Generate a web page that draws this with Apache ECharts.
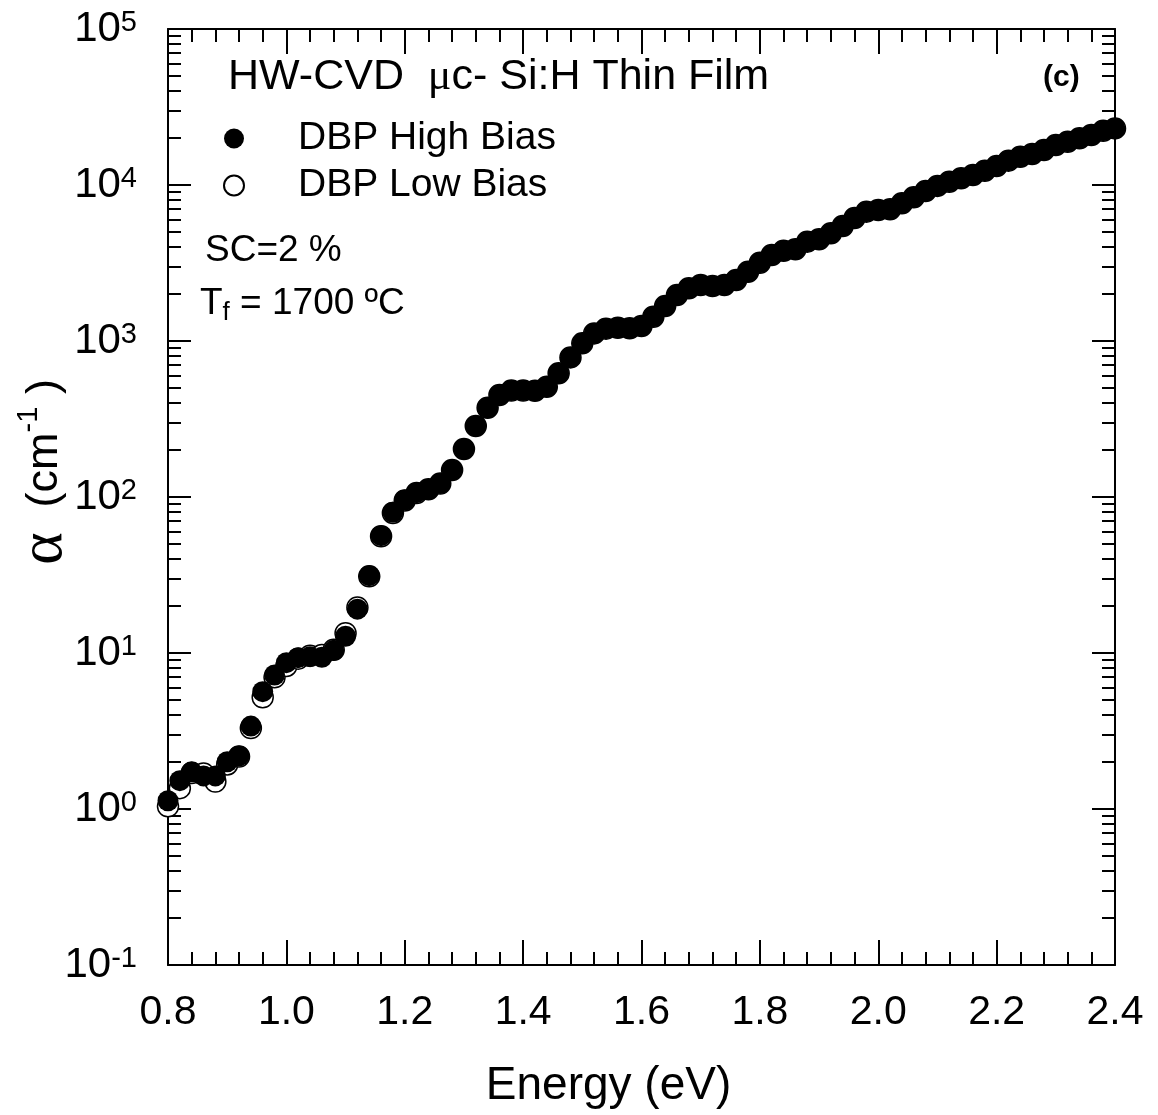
<!DOCTYPE html>
<html>
<head>
<meta charset="utf-8">
<script src="https://cdn.jsdelivr.net/npm/echarts@6/dist/echarts.min.js"></script>
<style>
  html, body { margin: 0; padding: 0; background: #fff; }
  #main { width: 1158px; height: 1115px; }
</style>
</head>
<body>
<div id="main"></div>
<script>
// photon energy (eV)
var energy = [0.80, 0.82, 0.84, 0.86, 0.88, 0.90, 0.92, 0.94, 0.96, 0.98,
  1.00, 1.02, 1.04, 1.06, 1.08, 1.10, 1.12, 1.14, 1.16, 1.18,
  1.20, 1.22, 1.24, 1.26, 1.28, 1.30, 1.32, 1.34, 1.36, 1.38,
  1.40, 1.42, 1.44, 1.46, 1.48, 1.50, 1.52, 1.54, 1.56, 1.58,
  1.60, 1.62, 1.64, 1.66, 1.68, 1.70, 1.72, 1.74, 1.76, 1.78,
  1.80, 1.82, 1.84, 1.86, 1.88, 1.90, 1.92, 1.94, 1.96, 1.98,
  2.00, 2.02, 2.04, 2.06, 2.08, 2.10, 2.12, 2.14, 2.16, 2.18,
  2.20, 2.22, 2.24, 2.26, 2.28, 2.30, 2.32, 2.34, 2.36, 2.38, 2.40]

// absorption coefficient alpha (cm^-1), DBP high bias
var alphaHigh = [1.13, 1.52, 1.73, 1.63, 1.63, 2.01, 2.19, 3.40, 5.65, 7.23,
  8.67, 9.33, 9.47, 9.38, 10.4, 12.8, 19.1, 31.3, 56.5, 79.8,
  95.7, 106.6, 112, 122, 149, 203, 285, 373, 451, 481,
  481, 479, 509, 621, 785, 966, 1119, 1200, 1216, 1205,
  1247, 1432, 1675, 1972, 2177, 2285, 2253, 2285, 2460, 2780,
  3177, 3555, 3790, 3871, 4335, 4488, 4900, 5460, 6150, 6750,
  6920, 6980, 7640, 8340, 9160, 9870, 10500, 11040, 11580, 12350,
  13250, 14330, 15180, 15800, 16760, 18030, 18950, 19920, 20930, 22290, 23060]

// DBP low bias
var alphaLow = [1.04, 1.36, 1.70, 1.69, 1.50, 1.93, 2.17, 3.30, 5.20, 6.98,
  8.26, 9.20, 9.60, 9.70, 10.5, 13.4, 19.6, 31.0, 56.0, 79.0,
  95, 106, 112, 122, 149, 203, 285, 373, 451, 481,
  481, 479, 509, 621, 785, 966, 1119, 1200, 1216, 1205,
  1247, 1432, 1675, 1972, 2177, 2285, 2253, 2285, 2460, 2780,
  3177, 3555, 3790, 3871, 4335, 4488, 4900, 5460, 6150, 6750,
  6920, 6980, 7640, 8340, 9160, 9870, 10500, 11040, 11580, 12350,
  13250, 14330, 15180, 15800, 16760, 18030, 18950, 19920, 20930, 22290, 23060]

// y axis ticks
var yMajor = [0.1, 1, 10, 100, 1000, 10000, 100000]
var yMinor = [0.2, 0.3, 0.4, 0.5, 0.6, 0.7, 0.8, 0.9,
  2, 3, 4, 5, 6, 7, 8, 9,
  20, 30, 40, 50, 60, 70, 80, 90,
  200, 300, 400, 500, 600, 700, 800, 900,
  2000, 3000, 4000, 5000, 6000, 7000, 8000, 9000,
  20000, 30000, 40000, 50000, 60000, 70000, 80000, 90000]

var seriesNames = ['DBP High Bias', 'DBP Low Bias']

var font = '"Liberation Sans", Arial, Helvetica, sans-serif'
var serif = '"Liberation Serif", "Times New Roman", serif'

function pairs(xs, ys) {
  return xs.map(function (x, i) { return [x, ys[i]] })
}

var chart = echarts.init(document.getElementById('main'))

var lineStyle = { color: '#000', width: 2 }

function xAxisOf(pos, showLabel) {
  return {
    type: 'value',
    position: pos,
    min: 0.8,
    max: 2.4,
    interval: 0.2,
    axisLine: { show: true, lineStyle: lineStyle },
    axisTick: { show: true, inside: true, length: 25, lineStyle: { color: '#000', width: 2 } },
    minorTick: { show: true, splitNumber: 5, length: 13, lineStyle: { color: '#000', width: 2 } },
    splitLine: { show: false },
    axisLabel: {
      show: showLabel,
      margin: 27,
      color: '#000',
      fontSize: 41,
      fontFamily: font,
      formatter: function (v) { return v.toFixed(1) }
    }
  }
}

function yAxisOf(pos, ticks, len, showLine, showLabel) {
  return {
    type: 'log',
    logBase: 10,
    position: pos,
    min: 0.1,
    max: 100000,
    axisLine: { show: showLine, lineStyle: lineStyle },
    axisTick: { show: true, inside: true, length: len, customValues: ticks, lineStyle: { color: '#000', width: 2 } },
    splitLine: { show: false },
    axisLabel: {
      show: showLabel,
      customValues: ticks,
      margin: 31,
      formatter: function (v) {
        var e = Math.round(Math.log10(v))
        return '{b|10}{s|' + e + '}'
      },
      rich: {
        b: { fontSize: 42, fontFamily: font, color: '#000', lineHeight: 42 },
        s: { fontSize: 29, fontFamily: font, color: '#000', lineHeight: 29, verticalAlign: 'top' }
      }
    }
  }
}

var xBottom = xAxisOf('bottom', true)
xBottom.name = 'Energy (eV)'
xBottom.nameLocation = 'middle'
xBottom.nameGap = 98
xBottom.nameMoveOverlap = false
xBottom.nameTextStyle = { fontSize: 46, fontFamily: font, color: '#000', padding: [0, 66, 0, 0] }

var yLeft = yAxisOf('left', yMajor, 23, true, true)
yLeft.name = '{a|α}{t|  (cm}{s|-1}{t| )}'
yLeft.nameLocation = 'middle'
yLeft.nameRotate = 90
yLeft.nameGap = 92
yLeft.nameMoveOverlap = false
yLeft.nameTextStyle = {
  padding: [0, 0, 0, 50],
  rich: {
    a: { fontSize: 62, fontFamily: serif, color: '#000', lineHeight: 62 },
    t: { fontSize: 45, fontFamily: font, color: '#000', lineHeight: 52 },
    s: { fontSize: 29, fontFamily: font, color: '#000', lineHeight: 32, verticalAlign: 'top' }
  }
}

var option = {
  animation: false,
  backgroundColor: '#fff',
  grid: { left: 168, right: 43, top: 29, bottom: 150, containLabel: false, outerBoundsMode: 'none' },
  legend: {
    data: seriesNames,
    orient: 'vertical',
    left: 218,
    top: 110,
    itemWidth: 20,
    itemHeight: 20,
    itemGap: 0,
    padding: 5,
    textStyle: { fontSize: 39, fontFamily: font, color: '#000', lineHeight: 47, padding: [0, 0, 0, 49] }
  },
  xAxis: [xBottom, xAxisOf('top', false)],
  yAxis: [
    yLeft,
    yAxisOf('left', yMinor, 13, false, false),
    yAxisOf('right', yMajor, 23, true, false),
    yAxisOf('right', yMinor, 13, false, false)
  ],
  graphic: [
    {
      type: 'text', left: 228, top: 55,
      style: {
        text: '{n|HW-CVD  }{g|μ}{n|c- Si:H Thin Film}',
        rich: {
          n: { fontSize: 43, fontFamily: font, fill: '#000', lineHeight: 50 },
          g: { fontSize: 44, fontFamily: serif, fill: '#000', lineHeight: 50 }
        }
      }
    },
    {
      type: 'text', left: 1043, top: 63,
      style: { text: '(c)', fontSize: 30, fontWeight: 'bold', fontFamily: font, fill: '#000' }
    },
    {
      type: 'text', left: 205, top: 232,
      style: { text: 'SC=2 %', fontSize: 37, fontFamily: font, fill: '#000' }
    },
    {
      type: 'text', left: 200, top: 285,
      style: {
        text: '{n|T}{f|f}{n| = 1700 ºC}',
        rich: {
          n: { fontSize: 37, fontFamily: font, fill: '#000', lineHeight: 44 },
          f: { fontSize: 26, fontFamily: font, fill: '#000', lineHeight: 20, verticalAlign: 'bottom' }
        }
      }
    }
  ],
  series: [
    {
      name: seriesNames[1],
      type: 'scatter',
      xAxisIndex: 0,
      yAxisIndex: 0,
      symbol: 'circle',
      symbolSize: 21,
      itemStyle: { color: '#fff', borderColor: '#000', borderWidth: 1.5, opacity: 1 },
      data: pairs(energy, alphaLow)
    },
    {
      name: seriesNames[0],
      type: 'scatter',
      xAxisIndex: 0,
      yAxisIndex: 0,
      symbol: 'circle',
      symbolSize: 21,
      itemStyle: { color: '#000', opacity: 1 },
      data: pairs(energy, alphaHigh)
    }
  ]
}

chart.setOption(option)
</script>
</body>
</html>
